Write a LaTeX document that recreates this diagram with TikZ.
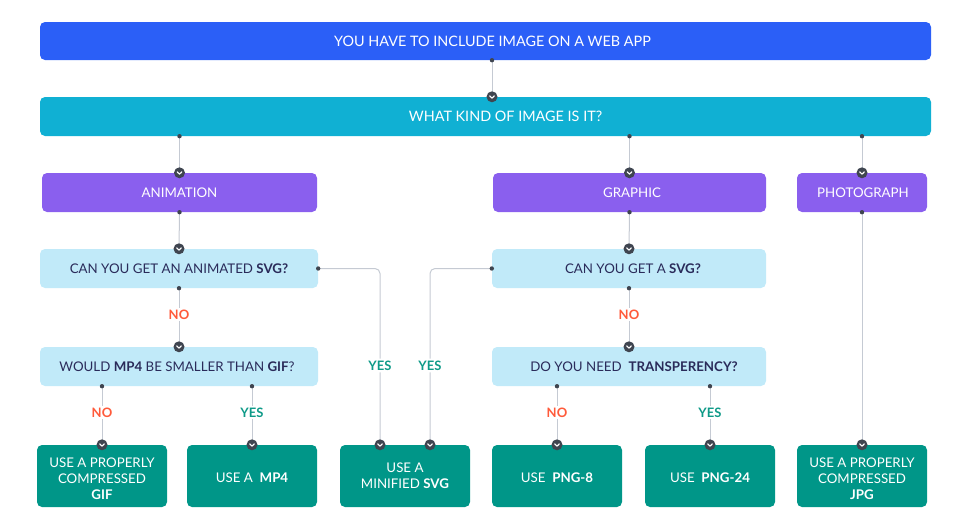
\documentclass[tikz,border=0pt]{standalone}
\usepackage{fontspec}
\setmainfont{Lato}
\usetikzlibrary{calc}
\definecolor{cblue}{HTML}{2B5FF7}
\definecolor{ccyan}{HTML}{10B0D3}
\definecolor{cpurple}{HTML}{8A5FEE}
\definecolor{clight}{HTML}{C1EAF9}
\definecolor{cteal}{HTML}{009688}
\definecolor{cdark}{HTML}{2A2B5A}
\definecolor{cno}{HTML}{FF5A3A}
\definecolor{cyes}{HTML}{0E9A88}
\definecolor{cdot}{HTML}{3F4550}
\definecolor{cline}{HTML}{C5CAD3}
\tikzset{
  x=1pt,y=-1pt,
  base/.style={rounded corners=5pt, inner sep=0pt, align=center,
    font=\fontsize{13.3}{16}\selectfont},
  topbox/.style={base, fill=cblue, text=white, minimum width=891pt, minimum height=38pt,
    font=\fontsize{14.4}{17}\selectfont},
  secbox/.style={base, fill=ccyan, text=white, minimum width=891pt, minimum height=39pt,
    font=\fontsize{14.4}{17}\selectfont},
  catbox/.style={base, fill=cpurple, text=white, minimum height=39pt},
  qbox/.style={base, fill=clight, text=cdark, minimum width=278pt, minimum height=39pt},
  resbox/.style={base, fill=cteal, text=white, minimum width=130pt, minimum height=62pt},
  res3/.style={resbox, text height=47.5pt},
  res1/.style={resbox, text height=13.5pt},
  conn/.style={draw=cline, line width=1pt},
  nolab/.style={fill=white, text=cno, font=\fontsize{13}{15}\selectfont\bfseries, inner sep=2pt},
  yeslab/.style={fill=white, text=cyes, font=\fontsize{13}{15}\selectfont\bfseries, inner sep=2pt},
  chev/.pic={\fill[cdot] (0,0) circle (5.5);
    \draw[white, line width=1.2pt, line cap=round, line join=round] (-2.3,-0.9) -- (0,1.3) -- (2.3,-0.9);},
  sdot/.pic={\fill[cdot] (0,0) circle (2.2);}
}
\begin{document}
\begin{tikzpicture}
\useasboundingbox (0,0) rectangle (968,530);
% boxes
\node[topbox] (top) at (485.5,41) {\hspace*{14pt}YOU HAVE TO INCLUDE IMAGE ON A WEB APP};
\node[secbox] (sec) at (485.5,116.5) {\hspace*{40pt}WHAT KIND OF IMAGE IS IT?};
\node[catbox, minimum width=275pt] (anim) at (179.5,192.5) {ANIMATION};
\node[catbox, minimum width=273pt] (graph) at (629.5,192.5) {\hspace*{5pt}GRAPHIC};
\node[catbox, minimum width=130pt] (photo) at (862,192.5) {\hspace*{2pt}PHOTOGRAPH};
\node[qbox] (q1) at (179,268.5) {CAN YOU GET AN ANIMATED \textbf{SVG?}};
\node[qbox, minimum width=274pt] (q2) at (629,268.5) {\hspace*{8pt}CAN YOU GET A \textbf{SVG?}};
\node[qbox] (q3) at (179,366.5) {WOULD \textbf{MP4} BE SMALLER THAN \textbf{GIF}?\hspace*{4pt}};
\node[qbox, minimum width=274pt] (q4) at (629,366.5) {\hspace*{10pt}DO YOU NEED\ \ \textbf{TRANSPERENCY?}};
\node[res3] (gif) at (102,476) {USE A PROPERLY\\COMPRESSED\\\textbf{GIF}};
\node[res1] (mp4) at (252,476) {USE A\ \ \textbf{MP4}};
\node[resbox] (svg) at (405,476) {USE A\\MINIFIED \textbf{SVG}};
\node[res1] (png8) at (557,476) {USE\ \ \textbf{PNG-8}};
\node[res1] (png24) at (710,476) {USE\ \ \textbf{PNG-24}};
\node[res3] (jpg) at (862,476) {USE A PROPERLY\\COMPRESSED\\\textbf{JPG}};
% connectors
\draw[conn] ([xshift=6.5pt]top.south) -- ([xshift=6.5pt]sec.north);
\draw[conn] (anim.north |- sec.south) -- (anim.north);
\draw[conn] (graph.north |- sec.south) -- (graph.north);
\draw[conn] (photo.north |- sec.south) -- (photo.north);
\draw[conn] (anim.south) -- (q1.north);
\draw[conn] (graph.south) -- (q2.north);
\draw[conn] (q1.south) -- node[nolab, pos=0.45] {NO} (q3.north);
\draw[conn] (q2.south) -- node[nolab, pos=0.45] {NO} (q4.north);
\draw[conn, rounded corners=5pt] (q1.east) -| node[yeslab, pos=0.775] {YES} ([xshift=-25pt]svg.north);
\draw[conn, rounded corners=5pt] (q2.west) -| node[yeslab, pos=0.775] {YES} ([xshift=25pt]svg.north);
\draw[conn] (gif.north |- q3.south) -- node[nolab, pos=0.45] {NO} (gif.north);
\draw[conn] (mp4.north |- q3.south) -- node[yeslab, pos=0.45] {YES} (mp4.north);
\draw[conn] (png8.north |- q4.south) -- node[nolab, pos=0.45] {NO} (png8.north);
\draw[conn] (png24.north |- q4.south) -- node[yeslab, pos=0.45] {YES} (png24.north);
\draw[conn] (photo.south) -- (jpg.north);
% start dots
\foreach \p in {([xshift=6.5pt]top.south), (anim.north |- sec.south), (graph.north |- sec.south),
  (photo.north |- sec.south), (anim.south), (graph.south), (q1.south), (q2.south), (q1.east), (q2.west),
  (gif.north |- q3.south), (mp4.north |- q3.south), (png8.north |- q4.south), (png24.north |- q4.south), (photo.south)}
  \path \p pic{sdot};
% end chevrons
\foreach \p in {([xshift=6.5pt]sec.north), (anim.north), (graph.north), (photo.north), (q1.north), (q2.north),
  (q3.north), (q4.north), ([xshift=-25pt]svg.north), ([xshift=25pt]svg.north), (gif.north), (mp4.north),
  (png8.north), (png24.north), (jpg.north)}
  \path \p pic{chev};
\end{tikzpicture}
\end{document}
